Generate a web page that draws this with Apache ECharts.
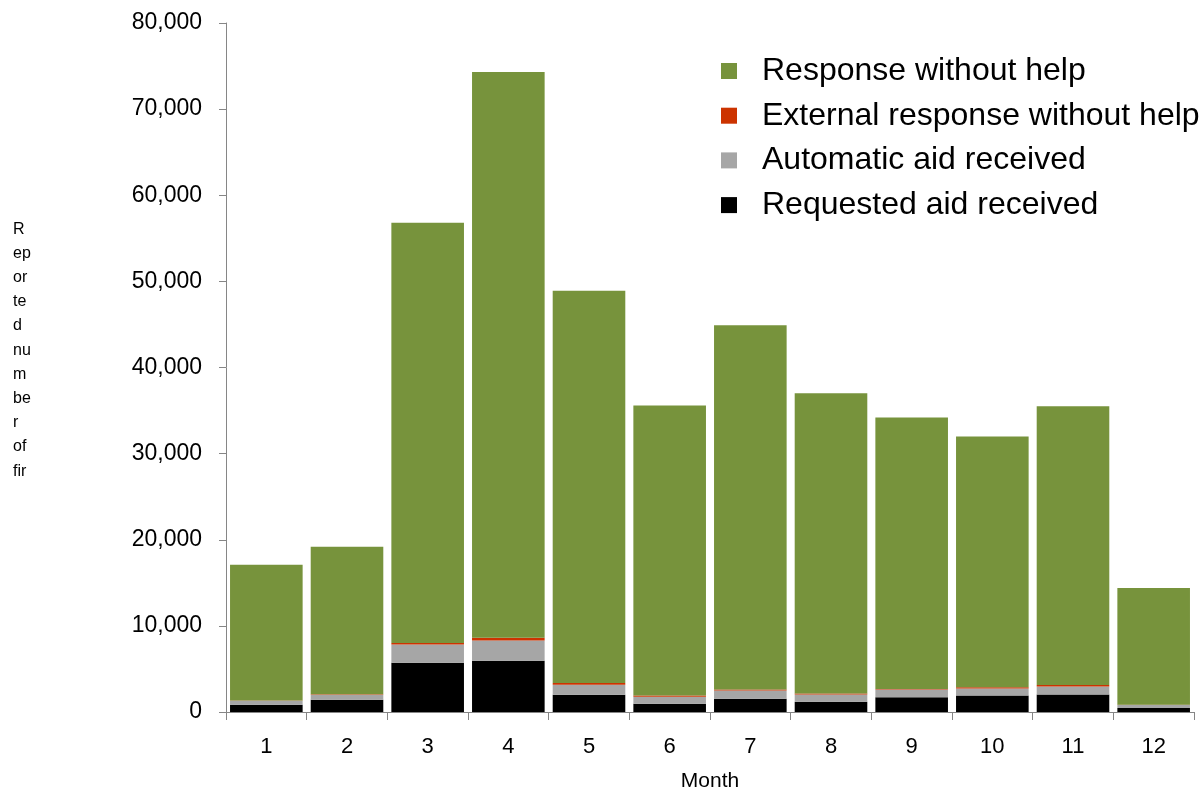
<!DOCTYPE html>
<html>
<head>
<meta charset="utf-8">
<style>
  html, body { margin: 0; padding: 0; background: #ffffff; overflow: hidden; }
  #chart { width: 1204px; height: 791px; }
</style>
<script src="https://cdn.jsdelivr.net/npm/echarts@6/dist/echarts.min.js"></script>
</head>
<body>
<div id="chart"></div>
<script>
// Month categories
const months = ['1', '2', '3', '4', '5', '6', '7', '8', '9', '10', '11', '12'];

// Stacked segment values per month (bottom to top)
const requestedAid = [850, 1430, 5720, 5960, 2010, 960, 1540, 1200, 1700, 1930, 2040, 460];
const automaticAid = [460, 580, 2130, 2350, 1160, 820, 970, 840, 920, 810, 930, 350];
const externalResponse = [30, 40, 160, 320, 200, 150, 110, 120, 40, 120, 160, 30];
const responseWithoutHelp = [15760, 17150, 48790, 65670, 45530, 33670, 42280, 34840, 31540, 29140, 32370, 13560];

// Vertical axis title, broken into short lines
const yTitleLines = ['R', 'ep', 'or', 'te', 'd', 'nu', 'm', 'be', 'r', 'of', 'fir'];

const FONT = '"Liberation Sans", Arial, sans-serif';

const chart = echarts.init(document.getElementById('chart'), null, { renderer: 'canvas' });

function barSeries(name, data, color) {
  return {
    name: name,
    type: 'bar',
    stack: 'total',
    data: data,
    barCategoryGap: '10%',
    itemStyle: { color: color },
    emphasis: { disabled: true }
  };
}

chart.setOption({
  animation: false,
  textStyle: { fontFamily: FONT },
  grid: { left: 226, right: 10, top: 23, bottom: 79, outerBoundsMode: 'none', containLabel: false },
  legend: {
    orient: 'vertical',
    left: 721,
    top: 55,
    padding: 0,
    itemWidth: 16,
    itemHeight: 16,
    itemGap: 12.7,
    icon: 'rect',
    data: ['Response without help', 'External response without help', 'Automatic aid received', 'Requested aid received'],
    textStyle: { fontSize: 32, color: '#000', fontFamily: FONT, lineHeight: 32, padding: [0, 0, 0, 20] },
    selectedMode: false
  },
  xAxis: {
    type: 'category',
    data: months,
    name: 'Month',
    nameLocation: 'middle',
    nameGap: 59,
    nameTextStyle: { fontSize: 21, color: '#000', fontFamily: FONT },
    axisLine: { show: true, lineStyle: { color: '#868686', width: 1 } },
    axisTick: { show: true, length: 8, lineStyle: { color: '#868686' } },
    axisLabel: { fontSize: 22, color: '#000', margin: 24, fontFamily: FONT }
  },
  yAxis: {
    type: 'value',
    min: 0,
    max: 80000,
    interval: 10000,
    axisLine: { show: true, lineStyle: { color: '#868686', width: 1 } },
    axisTick: { show: true, length: 7, lineStyle: { color: '#868686' } },
    splitLine: { show: false },
    axisLabel: {
      fontSize: 23,
      color: '#000',
      margin: 24,
      fontFamily: FONT,
      formatter: function (v) { return v.toLocaleString('en-US'); }
    }
  },
  graphic: [{
    type: 'text',
    left: 13,
    top: 217,
    style: {
      text: yTitleLines.join('\n'),
      font: '16px ' + FONT,
      lineHeight: 24.2,
      fill: '#000'
    }
  }],
  series: [
    barSeries('Requested aid received', requestedAid, '#000000'),
    barSeries('Automatic aid received', automaticAid, '#a6a6a6'),
    barSeries('External response without help', externalResponse, '#cc3300'),
    barSeries('Response without help', responseWithoutHelp, '#77933c')
  ]
});
</script>
</body>
</html>
